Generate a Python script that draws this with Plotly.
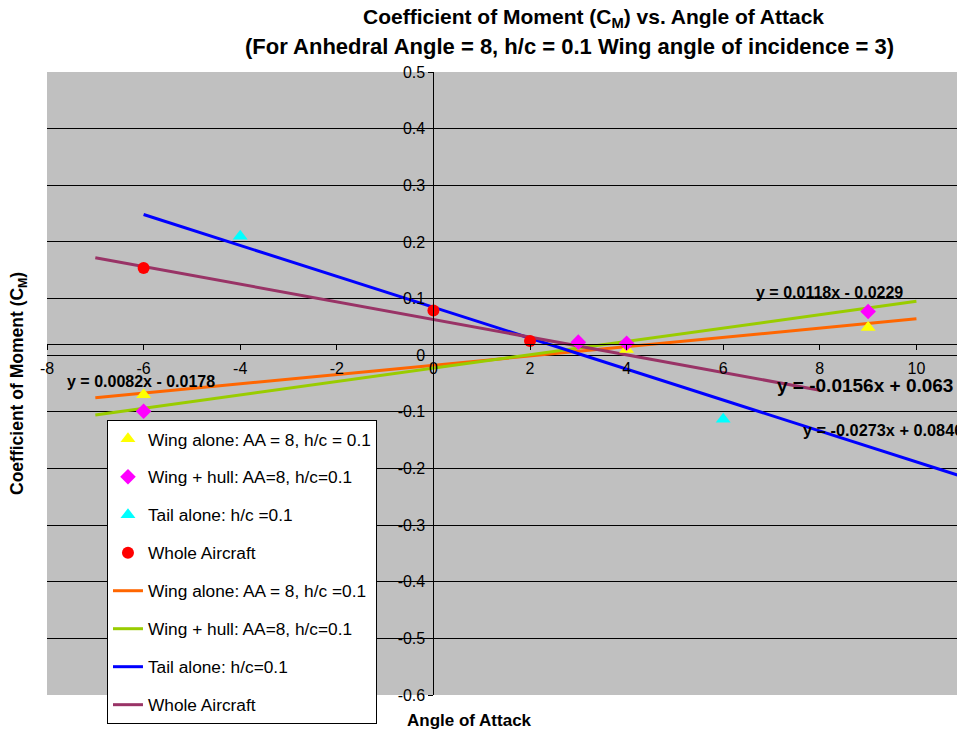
import numpy as np
import plotly.graph_objects as go

# ---- data ----
wing_x = [-6, 4, 9]
wing_y = [-0.070, 0.010, 0.049]

hull_x = [-6, 3, 4, 9]
hull_y = [-0.099, 0.023, 0.021, 0.077]

tail_x = [-4, 6]
tail_y = [0.210, -0.113]

whole_x = [-6, 0, 2]
whole_y = [0.154, 0.079, 0.025]

# trendlines (equations shown on chart) and their drawn x extents
trend_names = ["Wing alone: AA = 8, h/c =0.1", "Wing + hull: AA=8, h/c=0.1",
               "Tail alone: h/c=0.1", "Whole Aircraft"]
trend_slope = [0.0082, 0.0118, -0.0273, -0.0156]
trend_icpt = [-0.0178, -0.0229, 0.0846, 0.063]
trend_x0 = [-7, -7, -6, -7]
trend_x1 = [10, 10, 12, 8]
trend_labels = ["y = 0.0082x - 0.0178", "y = 0.0118x - 0.0229",
                "y = -0.0273x + 0.0846", "y = -0.0156x + 0.063"]

x_ticks = [-8, -6, -4, -2, 0, 2, 4, 6, 8, 10]
y_ticks = [-0.6, -0.5, -0.4, -0.3, -0.2, -0.1, 0, 0.1, 0.2, 0.3, 0.4, 0.5]
y_ticktext = ["-0.6", "-0.5", "-0.4", "-0.3", "-0.2", "-0.1", "0", "0.1", "0.2", "0.3", "0.4", "0.5"]
x_ticktext = ["-8", "-6", "-4", "-2", "0", "2", "4", "6", "8", "10"]

XMIN, XMAX = -8, 10.84
YMIN, YMAX = -0.6, 0.5
X_AXIS_CROSS = 0.019  # where the category axis line sits
FONT = "Arial, Liberation Sans, sans-serif"

line_colors = ["#FF6600", "#99CC00", "#0000FF", "#993366"]

fig = go.Figure()

# trendlines
for i in range(4):
    xs = np.array([trend_x0[i], trend_x1[i]], dtype=float)
    ys = trend_slope[i] * xs + trend_icpt[i]
    fig.add_trace(go.Scatter(x=xs, y=ys, mode="lines", name=trend_names[i],
                             line=dict(color=line_colors[i], width=3),
                             legendgroup=f"l{i}", legendrank=10 + i))

# markers
marker_series = [
    ("Wing alone: AA = 8, h/c = 0.1", wing_x, wing_y, "triangle-up", "#FFFF00", 13),
    ("Wing + hull: AA=8, h/c=0.1", hull_x, hull_y, "diamond", "#FF00FF", 12),
    ("Tail alone: h/c =0.1", tail_x, tail_y, "triangle-up", "#00FFFF", 13),
    ("Whole Aircraft", whole_x, whole_y, "circle", "#FF0000", 12),
]
for j, (nm, xs, ys, sym, col, sz) in enumerate(marker_series):
    fig.add_trace(go.Scatter(x=xs, y=ys, mode="markers", name=nm,
                             marker=dict(symbol=sym, color=col, size=sz, line=dict(width=0)),
                             legendgroup=f"m{j}", legendrank=j))

# equation labels
eq_pos = [(-7.62, -0.046, 16), (6.63, 0.111, 16), (7.62, -0.132, 16.3), (7.08, -0.053, 19)]
for i in range(4):
    ex, ey, fs = eq_pos[i]
    fig.add_annotation(x=ex, y=ey, xref="x", yref="y", text="<b>" + trend_labels[i] + "</b>",
                       showarrow=False, xanchor="left", yanchor="middle",
                       font=dict(family=FONT, size=fs, color="black"))

# titles
fig.add_annotation(x=0.600, y=1.0867, xref="paper", yref="paper",
                   xanchor="center", yanchor="middle",
                   text="<b>Coefficient of Moment (C<sub>M</sub>) vs. Angle of Attack</b>",
                   showarrow=False, font=dict(family=FONT, size=21, color="black"))
fig.add_annotation(x=0.5747, y=1.0417, xref="paper", yref="paper",
                   xanchor="center", yanchor="middle",
                   text="<b>(For Anhedral Angle = 8, h/c = 0.1 Wing angle of incidence = 3)</b>",
                   showarrow=False, font=dict(family=FONT, size=22, color="black"))
fig.add_annotation(x=-0.0319, y=0.5008, xref="paper", yref="paper",
                   xanchor="center", yanchor="middle",
                   text="<b>Coefficient of Moment (C<sub>M</sub>)</b>", textangle=-90,
                   showarrow=False, font=dict(family=FONT, size=17.5, color="black"))
fig.add_annotation(x=0.4648, y=-0.0417, xref="paper", yref="paper",
                   xanchor="center", yanchor="middle",
                   text="<b>Angle of Attack</b>",
                   showarrow=False, font=dict(family=FONT, size=17, color="black"))

fig.update_layout(
    width=957, height=734,
    margin=dict(l=47, r=0, t=72, b=39, autoexpand=False),
    paper_bgcolor="white", plot_bgcolor="#C0C0C0",
    font=dict(family=FONT, size=16, color="black"),
    showlegend=True,
    legend=dict(x=0.0659, y=0.4414, xanchor="left", yanchor="top",
                bgcolor="white", bordercolor="black", borderwidth=1,
                font=dict(family=FONT, size=17.3, color="black"),
                traceorder="grouped", tracegroupgap=12.5),
    xaxis=dict(range=[XMIN, XMAX], anchor="free", automargin=False,
               position=(X_AXIS_CROSS - YMIN) / (YMAX - YMIN),
               showline=True, linecolor="black", linewidth=1,
               ticks="outside", ticklen=5, tickcolor="black",
               tickvals=x_ticks, ticktext=x_ticktext, ticklabelstandoff=4,
               showgrid=False, zeroline=False, tickfont=dict(size=16)),
    yaxis=dict(range=[YMIN, YMAX], anchor="free", automargin=False,
               position=(0 - XMIN) / (XMAX - XMIN),
               showline=True, linecolor="black", linewidth=1,
               ticks="outside", ticklen=5, tickcolor="black",
               tickvals=y_ticks, ticktext=y_ticktext,
               showgrid=True, gridcolor="black", gridwidth=1,
               zeroline=False, tickfont=dict(size=16)),
)

fig.write_html("out.html", config={"displayModeBar": False},
               post_script="document.body.style.margin='0';document.body.style.overflow='hidden';")
